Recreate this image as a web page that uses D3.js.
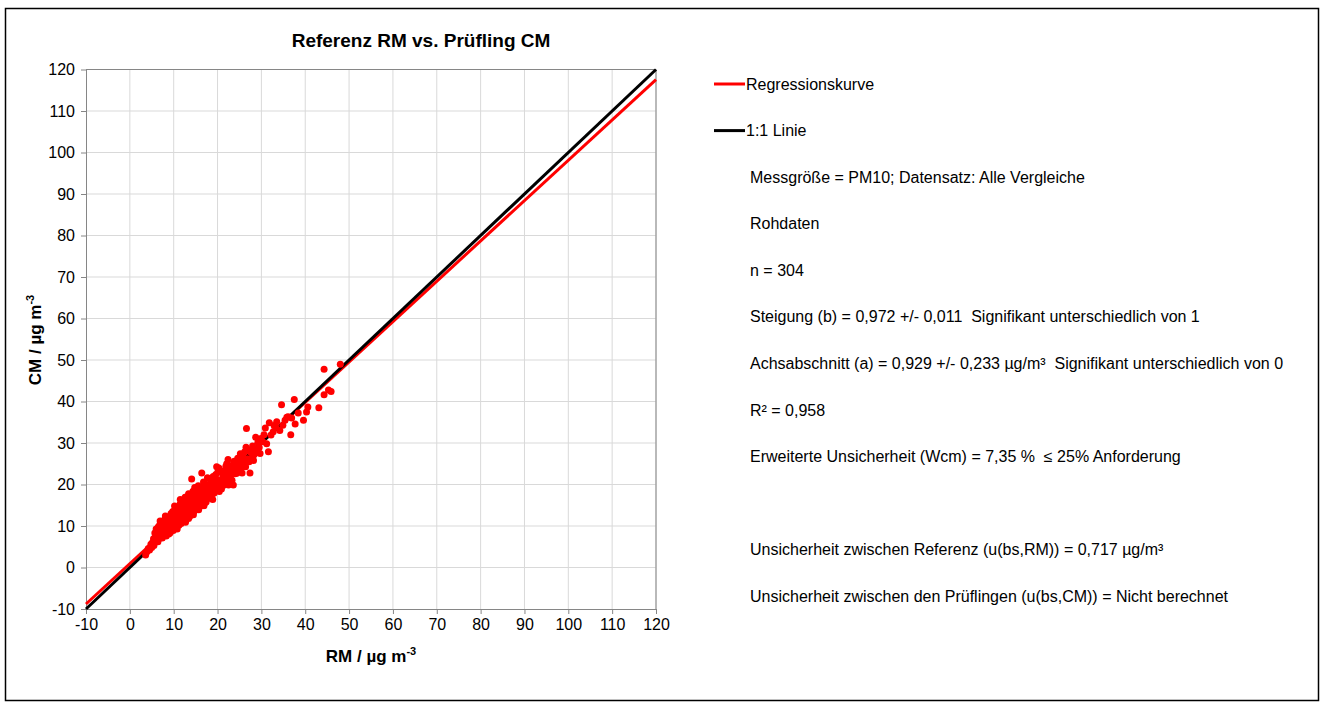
<!DOCTYPE html>
<html>
<head>
<meta charset="utf-8">
<script src="https://cdn.jsdelivr.net/npm/d3@7"></script>
<style>
  body { margin: 0; background: #fff; }
  text { font-family: "Liberation Sans", Arial, sans-serif; white-space: pre; }
</style>
</head>
<body>
<div id="chart"></div>
<script>
// Data
const xTicks = [-10, 0, 10, 20, 30, 40, 50, 60, 70, 80, 90, 100, 110, 120];
const yTicks = [-10, 0, 10, 20, 30, 40, 50, 60, 70, 80, 90, 100, 110, 120];
const slope = 0.972;
const intercept = 0.929;
const lineRange = [-10, 120];

// RM / CM pairs
const points = [
  [3.6,3.0],[4.2,4.6],[5.0,4.8],[5.2,6.1],[5.5,5.3],[5.8,7.2],[4.8,5.6],[5.9,6.4],[3.9,3.8],[5.4,6.9],[5.7,8.3],[4.5,4.2],
  [6.1,6.8],[6.2,8.9],[6.3,7.5],[6.4,6.2],[6.5,9.8],[6.6,8.1],[6.7,7.0],[6.8,10.2],[6.9,8.6],[7.0,7.4],
  [7.1,9.2],[7.2,11.0],[7.3,8.0],[7.4,7.1],[7.5,9.6],[7.6,8.4],[7.7,10.5],[7.8,7.7],[7.9,9.0],[8.0,11.6],
  [8.1,8.3],[8.2,10.0],[8.3,7.6],[8.4,9.4],[8.5,12.1],[8.6,8.8],[8.7,10.7],[8.8,9.9],[8.9,8.1],[6.0,9.3],
  [6.9,11.2],[7.5,10.9],[8.1,12.4],[8.6,11.3],[7.3,9.9],[6.4,7.9],[8.9,10.4],[7.8,8.9],[8.3,9.0],[6.8,8.9],
  [9.0,9.6],[9.1,11.8],[9.2,8.4],[9.3,10.4],[9.4,13.0],[9.5,9.2],[9.6,11.1],[9.7,12.5],[9.8,10.0],[9.9,8.9],
  [10.0,10.8],[10.1,13.6],[10.2,11.5],[10.3,9.6],[10.4,12.2],[10.5,10.6],[10.6,14.3],[10.7,11.0],[10.8,9.3],[10.9,12.8],
  [11.0,11.4],[11.1,13.3],[11.2,10.2],[11.3,12.0],[11.4,15.2],[11.5,11.0],[11.6,13.9],[11.7,10.6],[11.8,12.6],[11.9,11.7],
  [9.2,10.9],[9.5,12.2],[9.8,13.5],[10.1,11.9],[10.4,9.8],[10.7,12.9],[11.0,14.6],[11.3,10.9],[11.6,12.3],[11.9,14.1],
  [9.4,10.1],[9.7,11.4],[10.0,12.4],[10.3,10.9],[10.6,11.7],[10.9,13.9],[11.2,12.5],[11.5,16.4],[11.8,13.3],[9.0,11.1],
  [9.6,9.8],[10.2,14.8],[10.8,10.6],[11.4,11.8],[11.7,14.8],
  [12.0,12.8],[12.1,15.0],[12.2,11.2],[12.3,13.6],[12.4,16.3],[12.5,12.3],[12.6,14.4],[12.7,10.9],[12.8,13.1],[12.9,17.0],
  [13.0,13.8],[13.1,12.0],[13.2,15.4],[13.3,14.0],[13.4,11.8],[13.5,16.6],[13.6,13.4],[13.7,15.1],[13.8,12.6],[13.9,14.6],
  [14.0,17.6],[14.1,21.3],[14.2,13.2],[14.3,15.8],[14.4,14.2],[14.5,12.7],[14.6,16.9],[14.7,14.9],[14.8,19.3],[14.9,13.9],
  [12.2,14.0],[12.5,15.6],[12.8,12.0],[13.1,14.7],[13.4,17.8],[13.7,13.2],[14.0,15.3],[14.3,12.9],[14.6,15.7],[14.9,16.2],
  [12.3,12.4],[12.6,16.9],[12.9,14.3],[13.2,12.7],[13.5,14.9],[13.8,16.0],[14.1,14.5],[14.4,18.4],[14.7,13.6],[12.1,13.3],
  [13.0,15.9],[13.9,13.0],[14.5,15.1],[12.7,13.8],[13.6,12.2],
  [15.0,15.6],[15.1,17.9],[15.2,14.3],[15.3,16.4],[15.4,19.0],[15.5,15.0],[15.6,17.1],[15.7,13.9],[15.8,16.0],[15.9,18.6],
  [16.0,16.7],[16.1,14.8],[16.2,18.1],[16.3,16.2],[16.4,22.8],[16.5,17.4],[16.6,15.4],[16.7,19.4],[16.8,16.9],[16.9,14.9],
  [17.0,18.0],[17.1,20.3],[17.2,16.4],[17.3,17.6],[17.4,15.8],[17.5,19.1],[17.6,17.2],[17.7,21.6],[17.8,16.6],[17.9,18.5],
  [15.3,15.9],[15.8,17.7],[16.2,15.9],[16.6,18.8],[17.0,15.4],[17.4,17.9],[17.8,19.8],[15.6,19.7],[16.8,20.6],[17.2,18.7],
  [18.0,17.3],[18.2,19.5],[18.4,16.8],[18.6,20.6],[18.8,18.4],[19.0,21.9],[19.2,17.9],[19.4,19.8],[19.6,22.4],[19.8,24.3],
  [20.0,19.0],[20.2,21.1],[20.4,18.3],[20.6,20.3],[20.8,22.9],[21.0,19.7],[18.1,18.9],[18.5,21.3],[18.9,16.4],[19.3,20.6],
  [19.7,18.6],[20.1,23.1],[20.5,20.9],[20.9,18.9],[18.3,20.1],[18.7,17.6],[19.1,19.2],[19.5,21.0],[19.9,20.0],[20.3,24.0],
  [21.2,21.6],[21.4,19.8],[21.6,23.4],[21.8,20.8],[22.0,22.7],[22.1,25.0],[22.3,21.4],[22.5,19.9],[22.7,23.9],[22.9,22.0],
  [23.1,24.6],[23.3,21.0],[23.5,23.2],[23.6,19.9],[23.8,25.6],[24.0,22.6],[21.3,22.9],[21.9,24.4],[22.6,21.0],[23.2,22.8],
  [23.9,24.0],[22.4,26.0],
  [24.2,24.9],[24.4,22.7],[24.6,26.3],[24.8,23.9],[25.0,25.5],[25.2,27.4],[25.4,24.1],[25.6,22.8],[25.8,26.5],[26.0,25.1],
  [26.2,27.9],[26.4,24.3],[26.6,33.5],[26.8,26.2],[27.0,28.4],[27.2,25.5],[27.4,22.8],[26.5,29.0],
  [27.6,27.8],[27.8,26.4],[28.0,29.3],[28.3,27.1],[28.5,28.6],[28.7,31.4],[29.0,27.7],[29.2,30.2],[29.5,28.9],[29.7,27.5],
  [29.9,31.1],[28.2,25.8],
  [30.3,30.3],[30.6,32.0],[30.9,33.6],[31.2,29.8],[31.6,27.9],[31.8,34.9],[32.2,31.9],[32.7,32.7],[32.9,34.2],
  [33.3,33.8],[33.5,35.1],[34.2,33.0],[34.6,39.2],[34.9,34.3],[35.4,35.5],[35.8,36.2],
  [36.1,36.3],[36.7,32.0],[36.9,36.0],[37.5,40.5],[37.7,34.6],[38.4,37.2],[39.6,35.5],[40.3,37.5],[40.6,38.7],
  [43.1,38.5],[44.3,41.6],[44.3,47.8],[45.3,42.8],[45.9,42.4],[48.0,49.0]
];

const legendItems = [
  { label: "Regressionskurve", color: "#ff0000" },
  { label: "1:1 Linie", color: "#000000" }
];
const infoLines = [
  "Messgröße = PM10; Datensatz: Alle Vergleiche",
  "Rohdaten",
  "n = 304",
  "Steigung (b) = 0,972 +/- 0,011  Signifikant unterschiedlich von 1",
  "Achsabschnitt (a) = 0,929 +/- 0,233 µg/m³  Signifikant unterschiedlich von 0",
  "R² = 0,958",
  "Erweiterte Unsicherheit (Wcm) = 7,35 %  ≤ 25% Anforderung",
  "",
  "Unsicherheit zwischen Referenz (u(bs,RM)) = 0,717 µg/m³",
  "Unsicherheit zwischen den Prüflingen (u(bs,CM)) = Nicht berechnet"
];

const W = 1325, H = 702;
const plot = { left: 86, right: 656, top: 69.5, bottom: 609 };

const svg = d3.select("#chart").append("svg")
    .attr("width", W)
    .attr("height", H);

// outer frame
svg.append("rect")
    .attr("x", 5.5).attr("y", 8.5)
    .attr("width", 1313).attr("height", 692)
    .attr("fill", "#fff")
    .attr("stroke", "#000")
    .attr("stroke-width", 1.5);

const x = d3.scaleLinear().domain([-10, 120]).range([plot.left, plot.right]);
const y = d3.scaleLinear().domain([-10, 120]).range([plot.bottom, plot.top]);

// gridlines
svg.append("g")
    .selectAll("line")
    .data(xTicks.slice(1))
    .enter().append("line")
    .attr("x1", d => x(d)).attr("x2", d => x(d))
    .attr("y1", plot.top).attr("y2", plot.bottom)
    .attr("stroke", "#d9d9d9");
svg.append("g")
    .selectAll("line")
    .data(yTicks.slice(1))
    .enter().append("line")
    .attr("x1", plot.left).attr("x2", plot.right)
    .attr("y1", d => y(d)).attr("y2", d => y(d))
    .attr("stroke", "#d9d9d9");

// plot border top/right
svg.append("path")
    .attr("d", `M${plot.left},${plot.top}H${plot.right}V${plot.bottom}`)
    .attr("fill", "none")
    .attr("stroke", "#868686");

// axes
const fmt = d => String(d);
const xAxis = svg.append("g")
    .attr("transform", "translate(0," + plot.bottom + ")")
    .call(d3.axisBottom(x).tickValues(xTicks).tickFormat(fmt).tickSize(5).tickSizeOuter(0));
const yAxis = svg.append("g")
    .attr("transform", "translate(" + plot.left + ",0)")
    .call(d3.axisLeft(y).tickValues(yTicks).tickFormat(fmt).tickSize(5).tickSizeOuter(0));

[xAxis, yAxis].forEach(g => {
    g.select(".domain").attr("stroke", "#868686");
    g.selectAll(".tick line").attr("stroke", "#868686");
    g.selectAll(".tick text")
        .attr("fill", "#000")
        .style("font-family", "'Liberation Sans', Arial, sans-serif")
        .style("font-size", "16px");
});
xAxis.selectAll(".tick text").attr("dy", "0.9em").attr("y", 7);
yAxis.selectAll(".tick text").attr("x", -11);

// lines: regression and 1:1
const lineGen = d3.line().x(d => x(d[0])).y(d => y(d[1]));
svg.append("path")
    .datum(lineRange.map(v => [v, slope * v + intercept]))
    .attr("d", lineGen)
    .attr("stroke", "#ff0000")
    .attr("stroke-width", 3)
    .attr("fill", "none");
svg.append("path")
    .datum(lineRange.map(v => [v, v]))
    .attr("d", lineGen)
    .attr("stroke", "#000")
    .attr("stroke-width", 3)
    .attr("fill", "none");

// points
svg.append("g")
    .selectAll("circle")
    .data(points)
    .enter().append("circle")
    .attr("cx", d => x(d[0]))
    .attr("cy", d => y(d[1]))
    .attr("r", 3.5)
    .attr("fill", "#ff0000");

// title
svg.append("text")
    .attr("x", 421)
    .attr("y", 47)
    .attr("text-anchor", "middle")
    .style("font-size", "19px")
    .style("font-weight", "bold")
    .text("Referenz RM vs. Prüfling CM");

// axis labels
const xLab = svg.append("text")
    .attr("x", 371)
    .attr("y", 662)
    .attr("text-anchor", "middle")
    .style("font-size", "17px")
    .style("font-weight", "bold");
xLab.append("tspan").text("RM / µg m");
xLab.append("tspan").attr("dy", -7).style("font-size", "11px").text("-3");

const yLab = svg.append("text")
    .attr("transform", "translate(41,340) rotate(-90)")
    .attr("text-anchor", "middle")
    .style("font-size", "17px")
    .style("font-weight", "bold");
yLab.append("tspan").text("CM / µg m");
yLab.append("tspan").attr("dy", -7).style("font-size", "11px").text("-3");

// legend
const legend = svg.append("g");
legendItems.forEach((item, i) => {
    const ly = 84 + i * 46.6;
    legend.append("line")
        .attr("x1", 714).attr("x2", 745)
        .attr("y1", ly).attr("y2", ly)
        .attr("stroke", item.color)
        .attr("stroke-width", 3);
    legend.append("text")
        .attr("x", 746).attr("y", ly)
        .attr("dy", "0.35em")
        .style("font-size", "16px")
        .text(item.label);
});

infoLines.forEach((line, i) => {
    legend.append("text")
        .attr("x", 750)
        .attr("y", 177 + i * 46.6)
        .attr("dy", "0.35em")
        .style("font-size", "16px")
        .text(line);
});
</script>
</body>
</html>
